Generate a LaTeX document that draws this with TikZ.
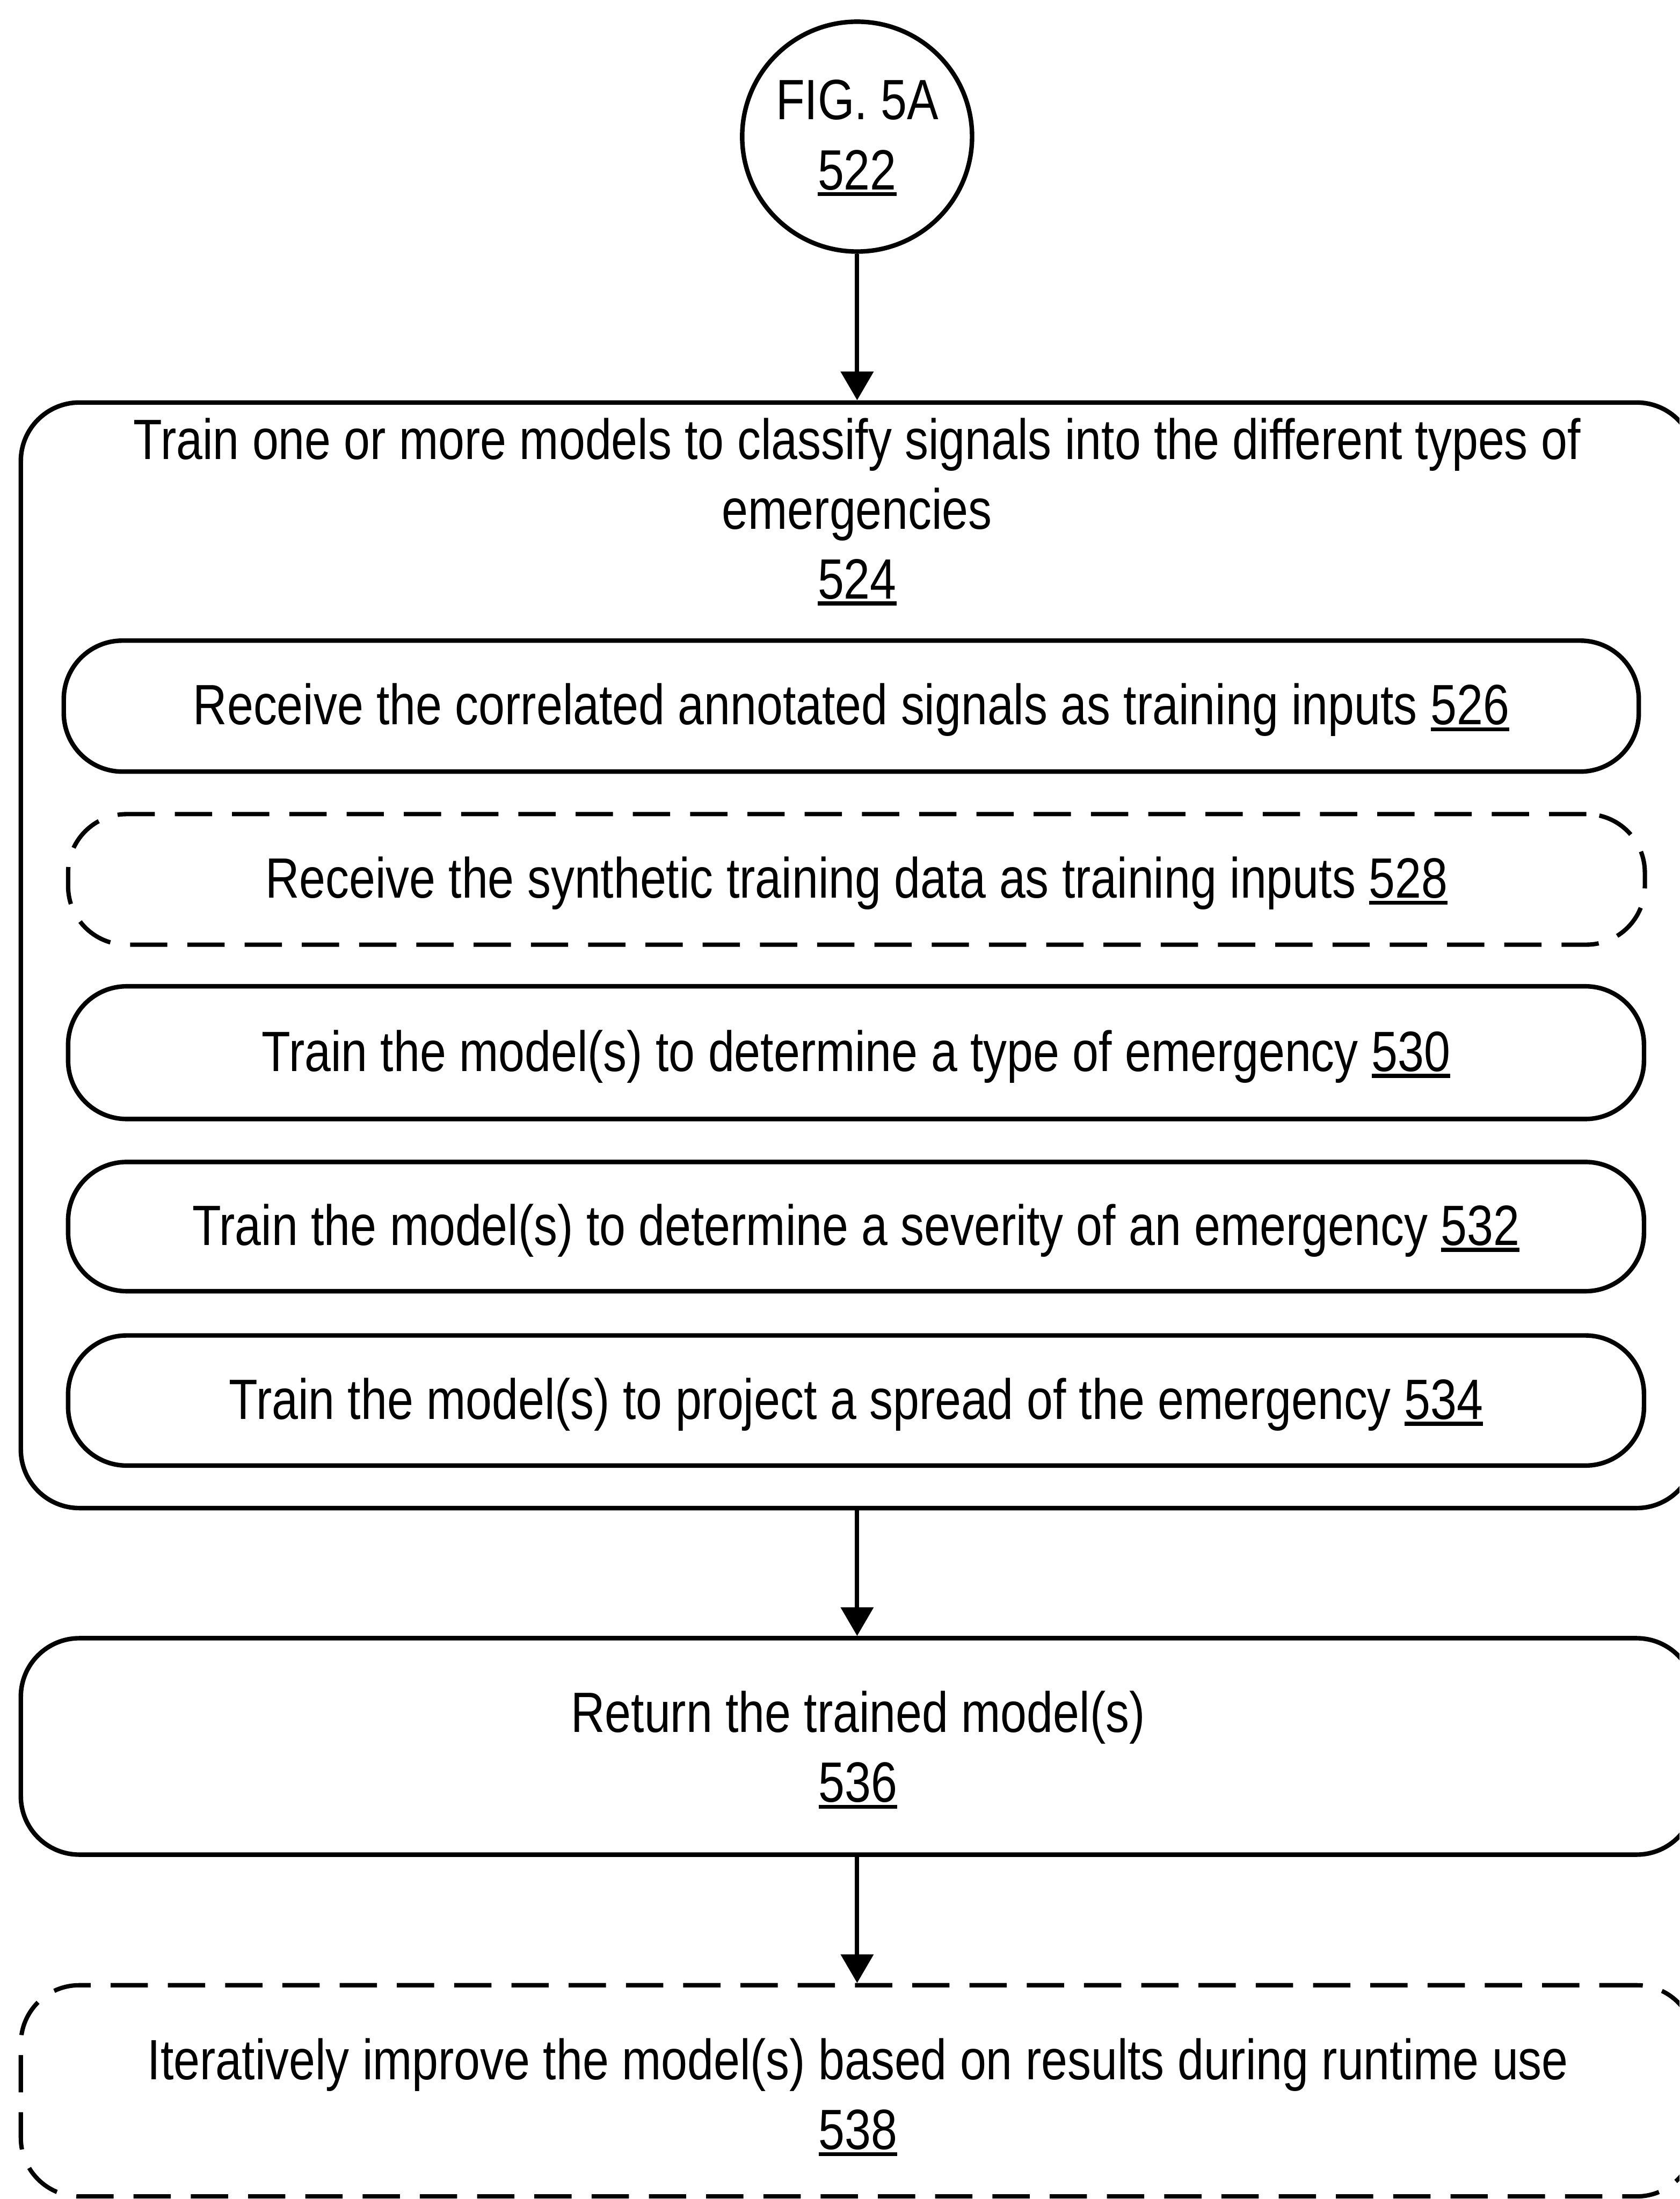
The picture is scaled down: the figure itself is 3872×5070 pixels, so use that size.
\documentclass[tikz,border=0pt]{standalone}
\usepackage{fontspec}
\setmainfont[FakeStretch=0.83]{Liberation Sans}
\usetikzlibrary{arrows.meta}

% reference numerals are underlined
\newcommand{\refnum}[1]{\setbox0\hbox{#1}\rlap{\rule[-0.115em]{\wd0}{0.07em}}\box0}
% centred lines, baseline on the first line
\newcommand{\stacklines}[1]{\begin{tabular}[t]{@{}c@{}}#1\end{tabular}}

\begin{document}
\begin{tikzpicture}[x=0.25pt, y=-0.25pt,
  every node/.style={font=\fontsize{32.75pt}{40.25pt}\selectfont, inner sep=0pt},
  frame/.style={draw, line width=2.6pt, rounded corners=33.75pt},
  dashframe/.style={frame, line width=2.5pt, dash pattern=on 21.5pt off 11.5pt},
  oneline/.style={text height=30pt, text depth=8.5pt},
  flow/.style={line width=2.5pt, -{Triangle[length=16.5pt,width=18.5pt]}}
]
\useasboundingbox (0,0) rectangle (3872,5070);
\clip (0,0) rectangle (3872,5070);

% off-page connector
\node[circle, draw, line width=2.6pt, minimum size=132.5pt,
      text height=30pt, text depth=49.5pt] (fig5a) at (1976,315)
  {\stacklines{FIG. 5A\\\refnum{522}}};

% training block and its sub-steps
\node[frame, minimum width=965pt, minimum height=637.25pt] (train) at (1978,2202.5) {};
\node[anchor=base] (traintitle) at (1976,1059)
  {\stacklines{Train one or more models to classify signals into the different types of\\emergencies\\\refnum{524}}};

\node[frame, oneline, minimum width=907.75pt, minimum height=75.5pt] (s526) at (1962.5,1628)
  {Receive the correlated annotated signals as training inputs \refnum{526}};
\node[dashframe, oneline, minimum width=908.75pt, minimum height=75.25pt] (s528) at (1974.5,2027.5)
  {Receive the synthetic training data as training inputs \refnum{528}};
\node[frame, oneline, minimum width=908.25pt, minimum height=76.5pt] (s530) at (1973.5,2427)
  {Train the model(s) to determine a type of emergency \refnum{530}};
\node[frame, oneline, minimum width=908.25pt, minimum height=74.5pt] (s532) at (1973.5,2828)
  {Train the model(s) to determine a severity of an emergency \refnum{532}};
\node[frame, oneline, minimum width=908.25pt, minimum height=75pt] (s534) at (1973.5,3229)
  {Train the model(s) to project a spread of the emergency \refnum{534}};

% following steps
\node[frame, minimum width=965pt, minimum height=124.75pt,
      text height=30pt, text depth=46.25pt] (s536) at (1978,4026.5)
  {\stacklines{Return the trained model(s)\\\refnum{536}}};
\node[dashframe, minimum width=965pt, minimum height=121.75pt,
      text height=30pt, text depth=42.75pt] (s538) at (1978,4820.5)
  {\stacklines{Iteratively improve the model(s) based on results during runtime use\\\refnum{538}}};

% flow arrows
\draw[flow] (fig5a.south) -- (fig5a.south |- train.north);
\draw[flow] (fig5a.south |- train.south) -- (fig5a.south |- s536.north);
\draw[flow] (fig5a.south |- s536.south) -- (fig5a.south |- s538.north);
\end{tikzpicture}
\end{document}
